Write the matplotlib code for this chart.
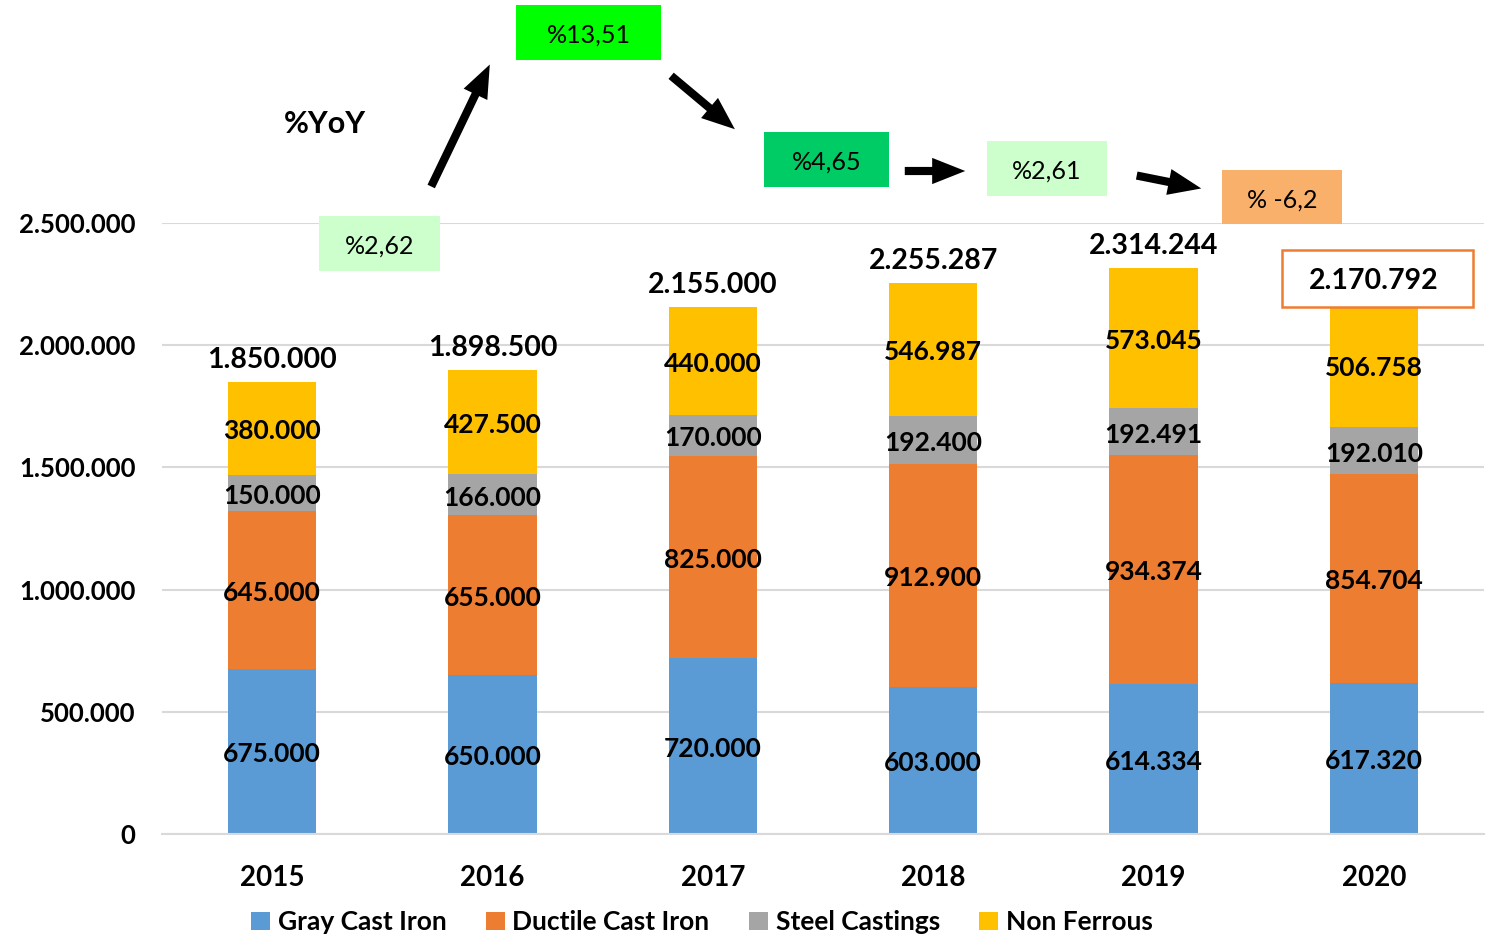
import matplotlib
matplotlib.use("Agg")
import matplotlib.pyplot as plt
from matplotlib.patches import Rectangle, FancyArrowPatch
from matplotlib.ticker import FuncFormatter

# -----------------------------
# Dados
# -----------------------------
anos = ["2015", "2016", "2017", "2018", "2019", "2020"]
gray_cast_iron = [675000, 650000, 720000, 603000, 614334, 617320]
ductile_cast_iron = [645000, 655000, 825000, 912900, 934374, 854704]
steel_castings = [150000, 166000, 170000, 192400, 192491, 192010]
non_ferrous = [380000, 427500, 440000, 546987, 573045, 506758]
totais = [1850000, 1898500, 2155000, 2255287, 2314244, 2170792]
series_nomes = ["Gray Cast Iron", "Ductile Cast Iron", "Steel Castings", "Non Ferrous"]
yoy_labels = ["%2,62", "%13,51", "%4,65", "%2,61", "% -6,2"]

cores = ["#5B9BD5", "#ED7D31", "#A5A5A5", "#FFC000"]
yoy_cores = ["#CCFFCC", "#00FF00", "#00CC66", "#CCFFCC", "#F8B06A"]

W, H = 1489, 939
plt.rcParams["font.family"] = ["Lato", "DejaVu Sans"]


def fx(x):
    return x / W


def fy(y):
    return 1 - y / H


def milhar(v):
    return f"{int(round(v)):,}".replace(",", ".")


fig = plt.figure(figsize=(W / 100, H / 100), dpi=100)
ax = fig.add_axes([fx(162), fy(834), fx(1484) - fx(162), fy(223) - fy(834)])

x = list(range(len(anos)))
base = [0] * len(anos)
for nome, vals, cor in zip(series_nomes, [gray_cast_iron, ductile_cast_iron, steel_castings, non_ferrous], cores):
    ax.bar(x, vals, bottom=base, width=0.40, color=cor, label=nome, zorder=2)
    for xi, b, v in zip(x, base, vals):
        ax.annotate(milhar(v), (xi, b + v / 2), xytext=(0, -2), textcoords="offset points",
                    ha="center", va="center", fontsize=19, fontweight="bold",
                    color="black", zorder=3)
    base = [b + v for b, v in zip(base, vals)]

# totais acima das barras
for xi, t in zip(x, base):
    ax.annotate(milhar(totais[xi]), (xi, t), xytext=(0, 16), textcoords="offset points",
                ha="center", va="center", fontsize=20.5, fontweight="bold",
                annotation_clip=False, zorder=5)

ax.set_xlim(-0.5, len(anos) - 0.5)
ax.set_ylim(0, 2500000)
ax.set_yticks(range(0, 2500001, 500000))
ax.yaxis.set_major_formatter(FuncFormatter(lambda v, p: milhar(v)))
ax.set_xticks(x)
ax.set_xticklabels(anos)
ax.grid(axis="y", color="#D9D9D9", linewidth=1.5, zorder=0)
for s in ["top", "right", "left"]:
    ax.spines[s].set_visible(False)
ax.spines["bottom"].set_color("#D9D9D9")
ax.spines["bottom"].set_linewidth(1.5)
ax.tick_params(axis="both", length=0)
ax.tick_params(axis="x", pad=22, labelsize=20)
ax.tick_params(axis="y", pad=19, labelsize=18.5)
for lbl in ax.get_xticklabels() + ax.get_yticklabels():
    lbl.set_fontweight("bold")

# caixa do total de 2020
ax.add_patch(Rectangle((fx(1282), fy(307)), fx(1473) - fx(1282), fy(250) - fy(307),
                       transform=fig.transFigure, facecolor="white", clip_on=False,
                       edgecolor="#ED7D31", linewidth=1.8, zorder=4))

# caixas de variacao anual
caixas = [(319, 216, 440, 271), (516, 5, 661, 60), (764, 132, 889, 187),
          (987, 141, 1107, 196), (1222, 170, 1342, 224)]
for (x0, y0, x1, y1), txt, cor in zip(caixas, yoy_labels, yoy_cores):
    ax.add_patch(Rectangle((fx(x0), fy(y1)), fx(x1) - fx(x0), fy(y0) - fy(y1),
                           transform=fig.transFigure, facecolor=cor, edgecolor="none",
                           clip_on=False, zorder=4))
    ax.text(fx((x0 + x1) / 2), fy((y0 + y1) / 2 + 3), txt, transform=fig.transFigure,
            ha="center", va="center", fontsize=18, color="black", zorder=5)

fig.text(fx(325), fy(124), "%YoY", ha="center", va="center", fontsize=22, fontweight="bold")

setas = [((430, 189), (491, 62)), ((669, 74), (737, 131)),
         ((902, 171), (968, 171)), ((1134, 175), (1204, 189))]
for (a, b) in setas:
    fig.add_artist(FancyArrowPatch((fx(a[0]), fy(a[1])), (fx(b[0]), fy(b[1])),
                                   transform=fig.transFigure,
                                   arrowstyle="simple,head_width=1.35,head_length=1.7,tail_width=0.42",
                                   mutation_scale=14, color="black", linewidth=0))

leg = fig.legend(loc="center", bbox_to_anchor=(fx(702), fy(922)), ncol=4, frameon=False,
                 handlelength=0.7, handleheight=0.7, handletextpad=0.3,
                 columnspacing=1.5, prop={"weight": "bold", "size": 19})

fig.savefig("out.png", dpi=100)
